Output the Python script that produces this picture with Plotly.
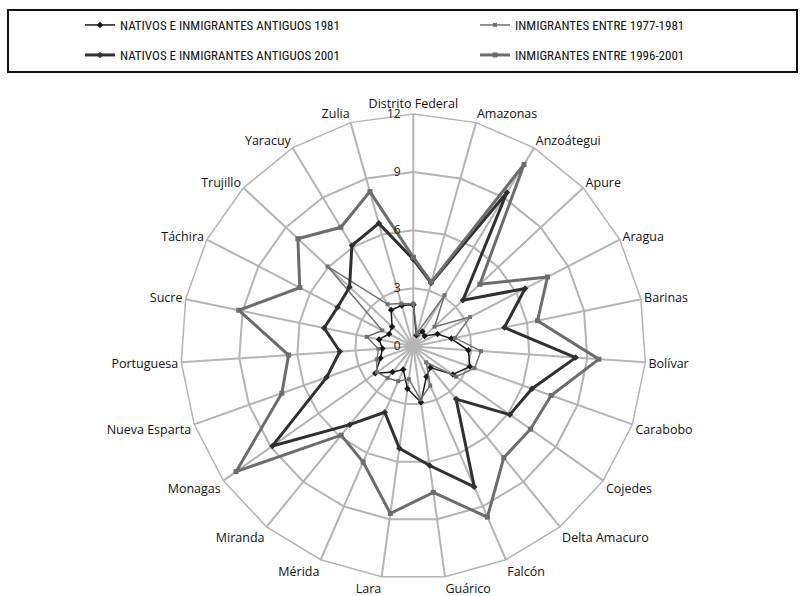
import plotly.graph_objects as go

# Venezuelan federal entities, clockwise from the top
estados = ["Distrito Federal", "Amazonas", "Anzoátegui", "Apure", "Aragua", "Barinas",
           "Bolívar", "Carabobo", "Cojedes", "Delta Amacuro", "Falcón", "Guárico",
           "Lara", "Mérida", "Miranda", "Monagas", "Nueva Esparta", "Portuguesa",
           "Sucre", "Táchira", "Trujillo", "Yaracuy", "Zulia"]

nativos_1981 = [2.15, 0.6, 0.9, 0.8, 1.4, 2.0, 2.85, 3.1, 2.5, 1.4, 1.7, 2.9,
                2.2, 1.3, 1.7, 2.4, 1.8, 1.6, 1.8, 1.4, 1.5, 2.2, 2.2]
inmig_1977_1981 = [2.2, 0.7, 3.1, 1.5, 3.3, 2.2, 3.5, 3.35, 2.7, 1.05, 2.2, 2.75,
                   1.7, 1.95, 2.1, 2.3, 2.0, 1.8, 2.45, 1.8, 6.05, 2.55, 2.3]
nativos_2001 = [4.5, 3.4, 9.3, 3.5, 6.5, 4.8, 8.4, 6.5, 6.1, 3.5, 7.9, 6.2,
                5.3, 3.7, 5.2, 8.9, 4.75, 3.8, 4.7, 4.4, 4.5, 6.1, 6.6]
inmig_1996_2001 = [4.6, 3.45, 11.0, 4.7, 7.8, 6.55, 9.6, 7.55, 7.4, 7.4, 9.6, 7.6,
                   8.7, 6.5, 5.9, 11.2, 7.2, 6.45, 9.2, 6.6, 8.15, 7.2, 8.3]

radial_ticks = [0, 3, 6, 9, 12]

W, H = 803, 596

# (name, values, colour, line width, marker, marker size, legend id, legend x px, legend y px)
series = [
    ("NATIVOS E INMIGRANTES ANTIGUOS 1981", nativos_1981, "#1a1a1a", 1.5, "diamond", 5, "legend", 80, 25),
    ("INMIGRANTES ENTRE 1977-1981", inmig_1977_1981, "#707070", 1.5, "square", 4, "legend2", 475, 25),
    ("NATIVOS E INMIGRANTES ANTIGUOS 2001", nativos_2001, "#303030", 3, "diamond", 5, "legend3", 80, 55),
    ("INMIGRANTES ENTRE 1996-2001", inmig_1996_2001, "#6c6c6c", 3, "square", 5, "legend4", 475, 55),
]

legend_font = dict(family="Liberation Sans Narrow, Roboto Condensed, DejaVu Sans Condensed, sans-serif",
                   size=13, color="#111111")

fig = go.Figure()
legends = {}
for name, vals, color, width, symbol, msize, leg, lx, ly in series:
    fig.add_trace(go.Scatterpolar(
        r=vals + vals[:1],
        theta=estados + estados[:1],
        mode="lines+markers",
        name=name,
        line=dict(color=color, width=width),
        marker=dict(symbol=symbol, size=msize, color=color),
        legend=leg,
        showlegend=True,
    ))
    legends[leg] = dict(orientation="h", x=lx / W, y=1 - ly / H, xanchor="left", yanchor="middle",
                        font=legend_font, bgcolor="rgba(0,0,0,0)", itemwidth=30)

cx, cy, R = 413.3, 346.5, 232.5
grid = "#b4b4b4"

fig.update_layout(
    width=W, height=H,
    showlegend=True,
    margin=dict(l=0, r=0, t=0, b=0),
    paper_bgcolor="white",
    plot_bgcolor="white",
    font=dict(family="Open Sans, sans-serif", size=13, color="#111111"),
    polar=dict(
        domain=dict(x=[(cx - R) / W, (cx + R) / W], y=[1 - (cy + R) / H, 1 - (cy - R) / H]),
        gridshape="linear",
        bgcolor="white",
        radialaxis=dict(
            range=[0, 12], tickvals=radial_ticks, angle=90, side="counterclockwise",
            tickangle=90, showline=False, gridcolor=grid, gridwidth=1.5,
            ticks="outside", ticklen=8, tickcolor="rgba(0,0,0,0)",
            tickfont=dict(family="Open Sans, sans-serif", size=12, color="#222222"),
        ),
        angularaxis=dict(
            direction="clockwise", rotation=90, categoryorder="array", categoryarray=estados,
            showline=True, linecolor=grid, linewidth=1.5, gridcolor=grid, gridwidth=1.5,
            ticks="",
            tickfont=dict(family="Open Sans, sans-serif", size=12.5, color="#111111"),
        ),
    ),
    shapes=[dict(type="rect", xref="paper", yref="paper",
                 x0=8 / W, x1=797 / W, y0=1 - 72 / H, y1=1 - 10 / H,
                 line=dict(color="#111111", width=2), fillcolor="rgba(0,0,0,0)")],
    **legends,
)

fig.write_html("out.html")
